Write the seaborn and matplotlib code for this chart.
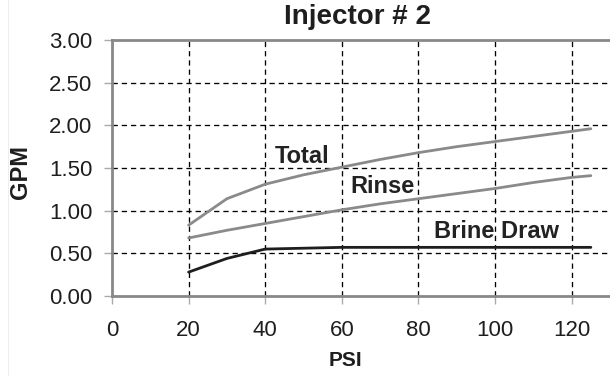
import matplotlib
matplotlib.use("Agg")
import matplotlib.pyplot as plt
from matplotlib.lines import Line2D
import seaborn as sns
import pandas as pd

# Flow rates (GPM) of injector #2 against inlet pressure (PSI)
psi = [20, 30, 40, 50, 60, 70, 80, 90, 100, 110, 120, 125]
total = [0.83, 1.14, 1.31, 1.42, 1.51, 1.60, 1.68, 1.75, 1.81, 1.87, 1.93, 1.96]
rinse = [0.68, 0.77, 0.85, 0.93, 1.01, 1.08, 1.14, 1.20, 1.26, 1.33, 1.39, 1.41]
brine = [0.28, 0.44, 0.55, 0.56, 0.57, 0.57, 0.57, 0.57, 0.57, 0.57, 0.57, 0.57]

series_names = ["Total", "Rinse", "Brine Draw"]
series_colors = ["#8a8a8a", "#8a8a8a", "#1e1e1e"]
label_pos = [(49.5, 1.64), (70.5, 1.28), (100.5, 0.75)]

x_ticks = [0, 20, 40, 60, 80, 100, 120]
y_ticks = [0.0, 0.5, 1.0, 1.5, 2.0, 2.5, 3.0]

df = pd.DataFrame({"PSI": psi * 3,
                   "GPM": total + rinse + brine,
                   "Series": sum([[n] * len(psi) for n in series_names], [])})

sns.set_theme(style="white")
plt.rcParams["font.family"] = ["Liberation Sans", "DejaVu Sans"]

fig = plt.figure(figsize=(6.1, 3.76), dpi=100)
ax = fig.add_axes([112 / 610, 1 - 296 / 376, 498 / 610, 256 / 376])

# dashed grid, drawn below the curves
for xv in x_ticks[1:]:
    ax.axvline(xv, color="black", lw=0.95, ls=(0, (4, 3)), zorder=1)
for yv in y_ticks[1:-1]:
    ax.axhline(yv, color="black", lw=0.95, ls=(0, (4, 3)), zorder=1)

sns.lineplot(data=df, x="PSI", y="GPM", hue="Series", hue_order=series_names,
             palette=dict(zip(series_names, series_colors)), lw=2.0,
             legend=False, ax=ax, zorder=3)

for name, (lx, ly) in zip(series_names, label_pos):
    ax.text(lx, ly, name, ha="center", va="center", fontsize=17,
            fontweight="bold", color="#222222", zorder=4)

ax.set_xlim(0, 130)
ax.set_ylim(0, 3.0)
ax.set_xticks(x_ticks)
ax.set_yticks(y_ticks)
ax.set_yticklabels([f"{v:.2f}" for v in y_ticks])
ax.tick_params(axis="both", which="major", labelsize=16, labelcolor="#1e1e1e",
               length=6, width=1.0, color="#aaaaaa", direction="out",
               left=True, bottom=True)
ax.tick_params(axis="x", pad=11)
ax.tick_params(axis="y", pad=8)

for side in ["left", "bottom", "top"]:
    ax.spines[side].set_color("#888888")
    ax.spines[side].set_linewidth(2.0)
ax.spines["right"].set_visible(False)

ax.set_xlabel("PSI", fontsize=15, fontweight="bold", color="#1e1e1e")
ax.set_ylabel("GPM", fontsize=17, fontweight="bold", color="#1e1e1e")
ax.xaxis.set_label_coords((345 - 112) / 498, (296 - 360) / 256)
ax.xaxis.label.set_va("center")
ax.yaxis.set_label_coords((20 - 112) / 498, (296 - 172) / 256)
ax.yaxis.label.set_va("center")

fig.text(358 / 610, 1 - 17 / 376, "Injector # 2", ha="center", va="center",
         fontsize=20, fontweight="bold", color="#1e1e1e")

# faint page edge on the left
fig.add_artist(Line2D([8 / 610, 8 / 610], [0, 1], transform=fig.transFigure,
                      color="#eeeeee", lw=0.8))

fig.savefig("out.png", dpi=100, facecolor="white")
